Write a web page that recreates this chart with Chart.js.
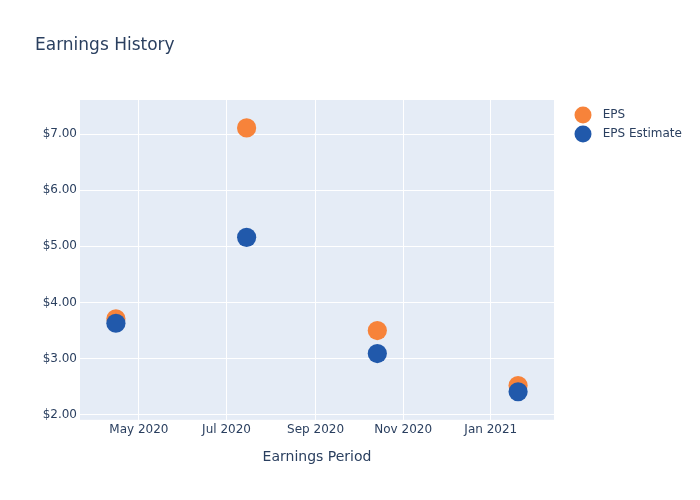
<!DOCTYPE html>
<html>
<head>
<meta charset="utf-8">
<script src="https://cdn.jsdelivr.net/npm/chart.js@4"></script>
<style>
  html, body { margin: 0; padding: 0; background: #fff; }
  #wrap { width: 700px; height: 500px; }
</style>
</head>
<body>
<div id="wrap"><canvas id="myChart"></canvas></div>
<script>
const periods = ['2020-04-15', '2020-07-15', '2020-10-14', '2021-01-20'];
const eps = [3.71, 7.11, 3.50, 2.52];
const epsEstimate = [3.63, 5.16, 3.09, 2.41];
const xTicks = ['2020-05-01', '2020-07-01', '2020-09-01', '2020-11-01', '2021-01-01'];
const yTicks = [2, 3, 4, 5, 6, 7];
const months = ['Jan', 'Feb', 'Mar', 'Apr', 'May', 'Jun', 'Jul', 'Aug', 'Sep', 'Oct', 'Nov', 'Dec'];

const toTime = s => Date.parse(s + 'T00:00:00Z');
const fmtDate = v => {
  const d = new Date(v);
  return months[d.getUTCMonth()] + ' ' + d.getUTCFullYear();
};

// plotly-like grey-blue plot background
const plotBg = {
  id: 'plotBg',
  beforeDraw(chart) {
    const a = chart.chartArea;
    chart.ctx.save();
    chart.ctx.fillStyle = '#e5ecf6';
    chart.ctx.fillRect(a.left, a.top, a.right - a.left, a.bottom - a.top);
    chart.ctx.restore();
  }
};

// legend: reserve a fixed strip on the right, then nudge the items into place
const legendPlace = {
  id: 'legendPlace',
  afterInit(chart) {
    const lg = chart.legend;
    const fit = lg.fit;
    lg.fit = function () {
      fit.call(this);
      if (!this.isHorizontal()) this.width = 146;
    };
  },
  afterLayout(chart) {
    const lg = chart.legend;
    lg.left = 570;
    lg.top = lg.top + 102;
  }
};

Chart.defaults.font.family = '"DejaVu Sans", Verdana, sans-serif';
Chart.defaults.color = '#2a3f5f';

const ctx = document.getElementById('myChart');
new Chart(ctx, {
  type: 'scatter',
  data: {
    datasets: [
      {
        label: 'EPS',
        data: periods.map((p, i) => ({ x: toTime(p), y: eps[i] })),
        backgroundColor: '#f7833a',
        borderWidth: 0,
        pointRadius: 9.6,
        pointHoverRadius: 9.6,
        order: 2,
      },
      {
        label: 'EPS Estimate',
        data: periods.map((p, i) => ({ x: toTime(p), y: epsEstimate[i] })),
        backgroundColor: '#2159ab',
        borderWidth: 0,
        pointRadius: 9.6,
        pointHoverRadius: 9.6,
        order: 1,
      },
    ],
  },
  options: {
    responsive: true,
    maintainAspectRatio: false,
    animation: false,
    layout: { padding: { left: 35, right: 0, top: 0, bottom: 34 } },
    plugins: {
      title: {
        display: true,
        text: 'Earnings History',
        align: 'start',
        color: '#2a3f5f',
        font: { size: 17, weight: 'normal' },
        padding: { top: 35, bottom: 44.6 },
      },
      legend: {
        position: 'right',
        align: 'start',
        labels: {
          usePointStyle: true,
          pointStyle: 'circle',
          color: '#2a3f5f',
          font: { size: 12 },
          padding: 7,
          sort: (a, b) => a.datasetIndex - b.datasetIndex,
          generateLabels: chart => {
            const items = Chart.defaults.plugins.legend.labels.generateLabels(chart);
            items.forEach(it => { it.text = '  ' + it.text; });
            return items;
          },
        },
      },
      tooltip: { enabled: false },
    },
    scales: {
      x: {
        type: 'linear',
        min: toTime('2020-03-21'),
        max: toTime('2021-02-14'),
        afterBuildTicks: axis => { axis.ticks = xTicks.map(t => ({ value: toTime(t) })); },
        ticks: {
          callback: v => fmtDate(v),
          color: '#2a3f5f',
          font: { size: 12 },
          padding: 3,
          maxRotation: 0,
          autoSkip: false,
        },
        grid: { color: '#ffffff', lineWidth: 1, drawTicks: false },
        border: { display: false },
        title: {
          display: true,
          text: 'Earnings Period',
          color: '#2a3f5f',
          font: { size: 14 },
          padding: { top: 9, bottom: 0 },
        },
      },
      y: {
        min: 1.91,
        max: 7.607,
        afterBuildTicks: axis => { axis.ticks = yTicks.map(v => ({ value: v })); },
        afterFit: axis => { axis.width = 45; },
        ticks: {
          callback: v => '$' + Number(v).toFixed(2),
          color: '#2a3f5f',
          font: { size: 12 },
          padding: 3,
        },
        grid: { color: '#ffffff', lineWidth: 1, drawTicks: false },
        border: { display: false },
      },
    },
  },
  plugins: [plotBg, legendPlace],
});
</script>
</body>
</html>
